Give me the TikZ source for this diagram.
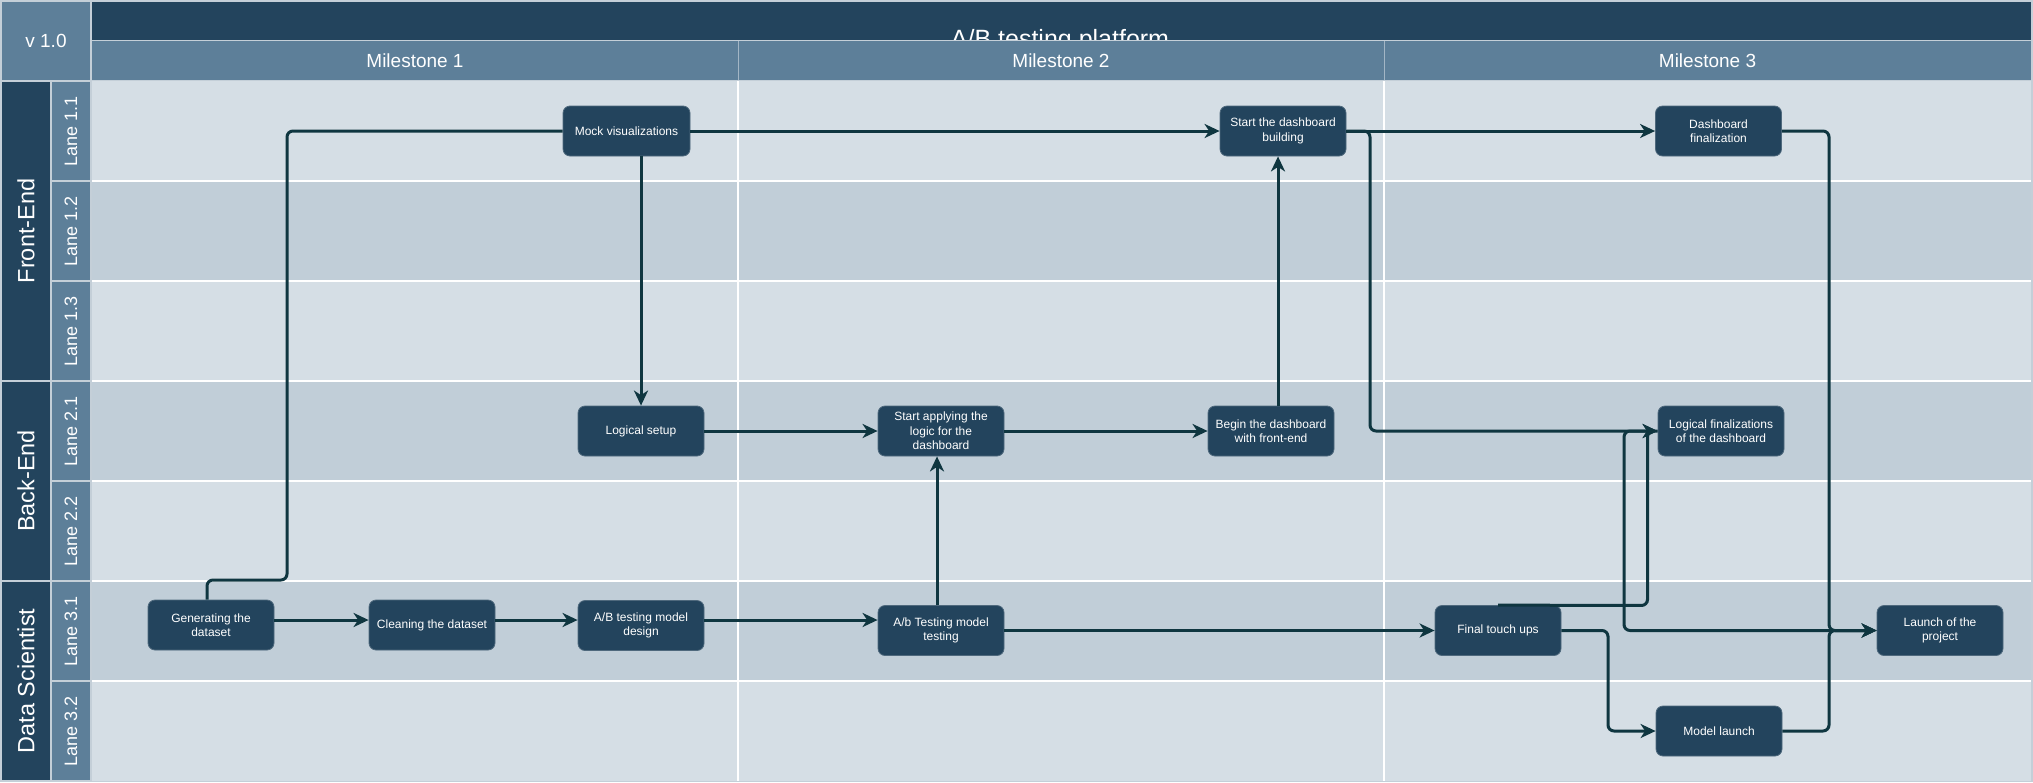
\documentclass[tikz,border=0pt]{standalone}
\usepackage{fontspec}
\setmainfont{Liberation Sans}
\usetikzlibrary{arrows.meta,calc}
\definecolor{dk}{HTML}{23445D}
\definecolor{md}{HTML}{5D7F99}
\definecolor{lnA}{HTML}{D5DEE5}
\definecolor{lnB}{HTML}{C1CED8}
\definecolor{bd}{HTML}{C4CFD8}
\definecolor{ec}{HTML}{0F3640}
\definecolor{hsep}{HTML}{A3B6C5}
\begin{document}
\begin{tikzpicture}[x=1pt,y=-1pt,
  task/.style={rectangle, rounded corners=7pt, fill=dk, draw=dk!80!white, line width=0.8pt,
    text=white, font=\fontsize{12}{14.4}\selectfont, align=center,
    minimum width=126pt, minimum height=50pt, inner sep=0pt},
  hdr/.style={text=white, font=\fontsize{19}{22}\selectfont, inner sep=0pt},
  grp/.style={text=white, rotate=90, font=\fontsize{23.5}{26}\selectfont, inner sep=0pt},
  lane/.style={text=white, rotate=90, font=\fontsize{18}{20}\selectfont, inner sep=0pt},
  conn/.style={draw=ec, line width=3pt, rounded corners=6pt},
  arr/.style={conn, -{Stealth[length=15pt,width=14pt,inset=4.5pt]}}]

\useasboundingbox (0,0) rectangle (2033,782);
\fill[bd] (0,0) rectangle (2033,782);

% header
\fill[md] (2,2) rectangle (90,80);
\node[hdr] (ver) at (46,41) {v 1.0};
\fill[dk] (92,2) rectangle (2031,39.5);
\node[anchor=base, text=white, font=\fontsize{25}{30}\selectfont, inner sep=0pt] (title) at (1060,47) {A/B testing platform};
\fill[bd] (92,39.5) rectangle (2031,41);
\fill[md] (92,41) rectangle (2031,80);
\draw[hsep, line width=1pt] (738,41) -- (738,80) (1384,41) -- (1384,80);
\node[hdr] (m1) at (415,60.5) {Milestone 1};
\node[hdr] (m2) at (1061,60.5) {Milestone 2};
\node[hdr] (m3) at (1707.5,60.5) {Milestone 3};

% lanes
\foreach \i/\c in {0/lnA,1/lnB,2/lnA,3/lnB,4/lnA,5/lnB,6/lnA} {
  \fill[\c] (92,{81+100*\i}) rectangle (2031,{181+100*\i});
  \fill[md] (52,{82+100*\i}) rectangle (90,{180+100*\i});
}
\foreach \i in {1,...,6} {
  \draw[white, line width=2pt] (92,{81+100*\i}) -- (2031,{81+100*\i});
}
\draw[white, line width=2pt] (738,81) -- (738,781) (1384,81) -- (1384,781);

\node[lane] (l11) at (71,131) {Lane 1.1};
\node[lane] (l12) at (71,231) {Lane 1.2};
\node[lane] (l13) at (71,331) {Lane 1.3};
\node[lane] (l21) at (71,431) {Lane 2.1};
\node[lane] (l22) at (71,531) {Lane 2.2};
\node[lane] (l31) at (71,631) {Lane 3.1};
\node[lane] (l32) at (71,731) {Lane 3.2};

% groups
\fill[dk] (2,82) rectangle (50,380);
\fill[dk] (2,382) rectangle (50,580);
\fill[dk] (2,582) rectangle (50,780);
\node[grp] (gfe) at (26,231) {Front-End};
\node[grp] (gbe) at (26,481) {Back-End};
\node[grp] (gds) at (26,681) {Data Scientist};

% tasks
\node[task] (gen) at (211,625) {Generating the\\dataset};
\node[task] (clean) at (432,625) {Cleaning the dataset};
\node[task] (design) at (641,625.5) {A/B testing model\\design};
\node[task, minimum width=127pt] (mock) at (626.5,131) {Mock visualizations};
\node[task] (logic) at (641,431) {Logical setup};
\node[task] (apply) at (941,431) {Start applying the\\logic for the\\dashboard};
\node[task] (abtest) at (941,630.5) {A/b Testing model\\testing};
\node[task] (begin) at (1271,431) {Begin the dashboard\\with front-end};
\node[task] (sdb) at (1283,131) {Start the dashboard\\building};
\node[task] (dfin) at (1718.5,131) {Dashboard\\finalization};
\node[task] (lfin) at (1721,431) {Logical finalizations\\of the dashboard};
\node[task] (final) at (1498,630.5) {Final touch ups};
\node[task] (mlaunch) at (1719,731) {Model launch};
\node[task] (launch) at (1940,630.5) {Launch of the\\project};

% connectors
\draw[conn] ([xshift=-4pt]gen.north) |- (287,580) |- (mock.west);
\draw[arr] (logic.north |- mock.south) -- (logic.north);
\draw[arr] (mock.east) -- (sdb.west);
\draw[arr] (logic.east) -- (apply.west);
\draw[arr] ($(gen.east)+(0,-5)$) -- ($(clean.west)+(0,-5)$);
\draw[arr] ($(clean.east)+(0,-5)$) -- ($(design.west)+(0,-5.5)$);
\draw[arr] ($(design.east)+(0,-5.5)$) -- ($(abtest.west)+(0,-10.5)$);
\draw[arr] ([xshift=-4pt]abtest.north) -- ([xshift=-4pt]apply.south);
\draw[arr] (apply.east) -- (begin.west);
\draw[arr] ([xshift=7pt]begin.north) -- ([xshift=-5pt]sdb.south);
\draw[arr] (sdb.east) -- (dfin.west);
\draw[arr] (sdb.east) -- (1370,131) |- (lfin.west);
\draw[arr] (abtest.east) -- (final.west);
\draw[arr] (final.east) -- (1608,630.5) |- (mlaunch.west);
\draw[arr] (final.north) -- (1647.5,605.5) |- (lfin.west);
\draw[arr] (lfin.west) -- (1624,431) |- (launch.west);
\draw[arr] (dfin.east) -- (1829,131) |- (launch.west);
\draw[arr] (mlaunch.east) -- (1829,731) |- (launch.west);
\end{tikzpicture}
\end{document}
